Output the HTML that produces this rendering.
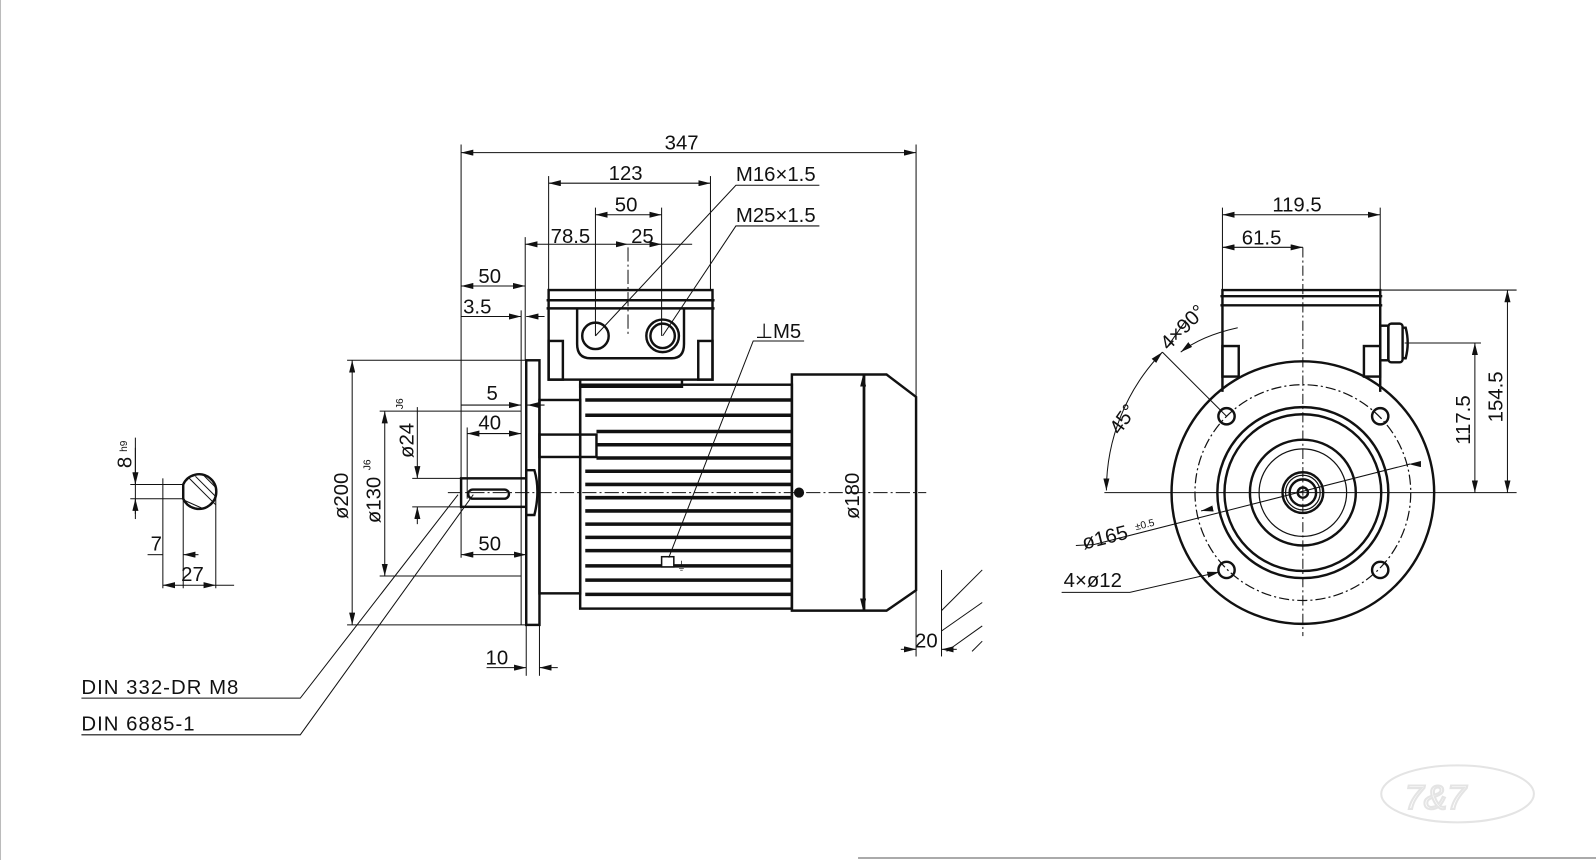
<!DOCTYPE html>
<html><head><meta charset="utf-8"><style>
html,body{margin:0;padding:0;background:#fff;}
svg{display:block;}
text{font-family:"Liberation Sans",sans-serif;font-size:20px;fill:#111;}
</style></head><body>
<svg width="1596" height="860" viewBox="0 0 1568 845" preserveAspectRatio="none" xmlns="http://www.w3.org/2000/svg">
<defs>
<marker id="a" viewBox="0 0 12 6" refX="12" refY="3" markerWidth="12" markerHeight="6" orient="auto-start-reverse" markerUnits="userSpaceOnUse"><path d="M0,0 L12,3 L0,6z" fill="#111"/></marker>
</defs>
<rect x="0" y="0" width="1568" height="845" fill="#fff"/>
<line x1="0.5" y1="0" x2="0.5" y2="845" stroke="#bbb"/>
<line x1="843" y1="843" x2="1568" y2="843" stroke="#555"/>

<!-- ===== SIDE VIEW ===== -->
<g fill="none" stroke="#111" stroke-width="2.4">
 <rect x="453" y="470" width="64" height="28"/>
 <rect x="460" y="481" width="40" height="9" rx="4.5"/>
 <path d="M517,462 h8 q6,20 0,44 h-8z"/>
 <rect x="517" y="354" width="13" height="260"/>
 <rect x="530" y="393" width="40" height="190"/>
 <rect x="530" y="427" width="56" height="22"/>
 <rect x="570" y="378" width="208" height="220"/>
 <path d="M778,368 H871 L900,390 V580 L871,600 H778z"/>
 <line x1="849" y1="368" x2="849" y2="600"/>
 <rect x="539" y="285" width="161" height="88"/>
 <line x1="537" y1="295" x2="702" y2="295"/>
 <line x1="537" y1="303" x2="702" y2="303"/>
 <rect x="539" y="335" width="14" height="38"/>
 <rect x="686" y="335" width="14" height="38"/>
 <path d="M567,303 V338 Q567,352 580,352 H660 Q672,352 672,338 V303"/>
 <circle cx="585" cy="330" r="13"/>
 <circle cx="651" cy="330" r="16"/>
 <circle cx="651" cy="330" r="12"/>
 <path d="M570,373 V380 H670 V373"/>
</g>
<g stroke="#111" stroke-width="3.5">
 <line x1="575" y1="393" x2="778" y2="393"/>
 <line x1="575" y1="408" x2="778" y2="408"/>
 <line x1="586" y1="424" x2="778" y2="424"/>
 <line x1="586" y1="437" x2="778" y2="437"/>
 <line x1="586" y1="450" x2="778" y2="450"/>
 <line x1="575" y1="463" x2="778" y2="463"/>
 <line x1="575" y1="476" x2="778" y2="476"/>
 <line x1="575" y1="489" x2="778" y2="489"/>
 <line x1="575" y1="502" x2="778" y2="502"/>
 <line x1="575" y1="515" x2="778" y2="515"/>
 <line x1="575" y1="528" x2="778" y2="528"/>
 <line x1="575" y1="541" x2="778" y2="541"/>
 <line x1="575" y1="556" x2="778" y2="556"/>
 <line x1="575" y1="570" x2="778" y2="570"/>
 <line x1="575" y1="584" x2="778" y2="584"/>
</g>
<circle cx="785" cy="484" r="5" fill="#111"/>
<rect x="650" y="547" width="12" height="10" fill="#fff" stroke="#111" stroke-width="1.5"/>
<text x="664" y="560" style="font-size:11px">⏚</text>

<g stroke="#111" stroke-width="1" stroke-dasharray="14,3,2,3" fill="none">
 <line x1="440" y1="484" x2="910" y2="484"/>
 <line x1="617" y1="243" x2="617" y2="330"/>
</g>

<g stroke="#111" stroke-width="1" fill="none">
 <line x1="453" y1="142" x2="453" y2="548"/>
 <line x1="900" y1="142" x2="900" y2="645"/>
 <line x1="539" y1="173" x2="539" y2="285"/>
 <line x1="698" y1="173" x2="698" y2="285"/>
 <line x1="585" y1="204" x2="585" y2="330"/>
 <line x1="650" y1="204" x2="650" y2="330"/>
 <line x1="516" y1="233" x2="516" y2="354"/>
 <line x1="512" y1="305" x2="512" y2="614"/>
 <line x1="517" y1="614" x2="517" y2="664"/>
 <line x1="530" y1="614" x2="530" y2="664"/>
 <line x1="341" y1="354" x2="517" y2="354"/>
 <line x1="341" y1="614" x2="517" y2="614"/>
 <line x1="373" y1="404" x2="512" y2="404"/>
 <line x1="373" y1="566" x2="512" y2="566"/>
 <line x1="405" y1="470" x2="453" y2="470"/>
 <line x1="405" y1="498" x2="453" y2="498"/>
 <line x1="459" y1="420" x2="459" y2="490"/>
 <line x1="780" y1="368" x2="855" y2="368"/>
 <line x1="780" y1="600" x2="855" y2="600"/>
 <line x1="925" y1="560" x2="925" y2="645"/>
 <line x1="133" y1="430" x2="133" y2="510"/>
 <line x1="160" y1="470" x2="160" y2="578"/>
 <line x1="180" y1="478" x2="180" y2="578"/>
 <line x1="212" y1="488" x2="212" y2="578"/>
 <line x1="453" y1="150" x2="900" y2="150" marker-start="url(#a)" marker-end="url(#a)"/>
 <line x1="539" y1="180" x2="698" y2="180" marker-start="url(#a)" marker-end="url(#a)"/>
 <line x1="585" y1="211" x2="650" y2="211" marker-start="url(#a)" marker-end="url(#a)"/>
 <line x1="516" y1="240" x2="617" y2="240" marker-start="url(#a)" marker-end="url(#a)"/>
 <line x1="617" y1="240" x2="650" y2="240" marker-end="url(#a)"/>
 <line x1="650" y1="240" x2="680" y2="240"/>
 <line x1="453" y1="281" x2="516" y2="281" marker-start="url(#a)" marker-end="url(#a)"/>
 <line x1="453" y1="311" x2="512" y2="311" marker-end="url(#a)"/>
 <line x1="535" y1="311" x2="517" y2="311" marker-end="url(#a)"/>
 <line x1="453" y1="398" x2="512" y2="398" marker-end="url(#a)"/>
 <line x1="535" y1="398" x2="518" y2="398" marker-end="url(#a)"/>
 <line x1="459" y1="426" x2="512" y2="426" marker-start="url(#a)" marker-end="url(#a)"/>
 <line x1="453" y1="545" x2="517" y2="545" marker-start="url(#a)" marker-end="url(#a)"/>
 <line x1="478" y1="656" x2="517" y2="656" marker-end="url(#a)"/>
 <line x1="548" y1="656" x2="530" y2="656" marker-end="url(#a)"/>
 <line x1="885" y1="638" x2="900" y2="638" marker-end="url(#a)"/>
 <line x1="940" y1="638" x2="925" y2="638" marker-end="url(#a)"/>
 <line x1="346" y1="354" x2="346" y2="614" marker-start="url(#a)" marker-end="url(#a)"/>
 <line x1="378" y1="404" x2="378" y2="566" marker-start="url(#a)" marker-end="url(#a)"/>
 <line x1="410" y1="400" x2="410" y2="470" marker-end="url(#a)"/>
 <line x1="410" y1="515" x2="410" y2="498" marker-end="url(#a)"/>
 <line x1="848" y1="368" x2="848" y2="600" marker-start="url(#a)" marker-end="url(#a)"/>
 <polyline points="805,182 723,182 585,330"/>
 <polyline points="805,222 723,222 651,330"/>
 <polyline points="790,335 740,335 657,548"/>
 <polyline points="80,686 295,686 450,486"/>
 <polyline points="80,722 295,722 465,486"/>
 <line x1="925" y1="600" x2="965" y2="560"/>
 <line x1="925" y1="620" x2="965" y2="592"/>
 <line x1="930" y1="640" x2="965" y2="615"/>
 <line x1="955" y1="640" x2="965" y2="630"/>
 <line x1="133" y1="440" x2="133" y2="476" marker-end="url(#a)"/>
 <line x1="133" y1="505" x2="133" y2="490" marker-end="url(#a)"/>
 <line x1="128" y1="476" x2="180" y2="476"/>
 <line x1="128" y1="490" x2="180" y2="490"/>
 <line x1="145" y1="545" x2="160" y2="545"/>
 <line x1="195" y1="545" x2="180" y2="545" marker-end="url(#a)"/>
 <line x1="160" y1="575" x2="180" y2="575" marker-start="url(#a)"/>
 <line x1="180" y1="575" x2="212" y2="575" marker-end="url(#a)"/>
 <line x1="212" y1="575" x2="230" y2="575"/>
</g>
<g fill="none" stroke="#111" stroke-width="2.4">
 <path d="M180,476 A17,17 0 1 1 180,490 Z"/>
</g>
<g stroke="#111" stroke-width="1">
 <line x1="186" y1="470" x2="212" y2="496"/><line x1="192" y1="468" x2="212" y2="488"/>
 <line x1="182" y1="492" x2="200" y2="500"/><line x1="200" y1="467" x2="212" y2="479"/>
</g>

<text x="653" y="147">347</text>
<text x="598" y="177">123</text>
<text x="604" y="208">50</text>
<text x="541" y="239">78.5</text>
<text x="620" y="239">25</text>
<text x="470" y="278">50</text>
<text x="455" y="308">3.5</text>
<text x="478" y="393">5</text>
<text x="470" y="422">40</text>
<text x="470" y="541">50</text>
<text x="477" y="653">10</text>
<text x="899" y="636">20</text>
<text x="723" y="178">M16×1.5</text>
<text x="723" y="218">M25×1.5</text>
<text x="742" y="332">⊥M5</text>
<text x="80" y="682" style="letter-spacing:1px">DIN 332-DR M8</text>
<text x="80" y="718" style="letter-spacing:1px">DIN 6885-1</text>
<text transform="translate(342,510) rotate(-90)">ø200</text>
<text transform="translate(374,514) rotate(-90)">ø130</text>
<text transform="translate(364,462) rotate(-90)" style="font-size:10px">J6</text>
<text transform="translate(406,450) rotate(-90)">ø24</text>
<text transform="translate(396,402) rotate(-90)" style="font-size:10px">J6</text>
<text transform="translate(844,510) rotate(-90)">ø180</text>
<text transform="translate(129,460) rotate(-90)">8</text>
<text transform="translate(125,444) rotate(-90)" style="font-size:10px">h9</text>
<text x="148" y="541">7</text>
<text x="178" y="571">27</text>

<!-- ===== END VIEW ===== -->
<g fill="none" stroke="#111" stroke-width="2.4">
 <circle cx="1280" cy="484" r="129"/>
 <circle cx="1280" cy="484" r="84"/>
 <circle cx="1280" cy="484" r="77"/>
 <circle cx="1280" cy="484" r="52"/>
 <circle cx="1280" cy="484" r="20"/>
 <circle cx="1280" cy="484" r="13"/>
 <circle cx="1280" cy="484" r="5"/>
 <circle cx="1205" cy="409" r="8"/>
 <circle cx="1356" cy="409" r="8"/>
 <circle cx="1205" cy="560" r="8"/>
 <circle cx="1356" cy="560" r="8"/>
 <path d="M1201,385 V285 H1356 V385"/>
 <line x1="1199" y1="291" x2="1358" y2="291"/>
 <line x1="1199" y1="300" x2="1358" y2="300"/>
 <rect x="1201" y="340" width="16" height="30"/>
 <rect x="1340" y="340" width="16" height="30"/>
 <rect x="1356" y="320" width="8" height="34"/>
 <rect x="1364" y="318" width="14" height="38" rx="3"/>
 <path d="M1378,322 h3 q4,15 0,30 h-3"/>
</g>
<g fill="none" stroke="#111" stroke-width="1.2">
 <circle cx="1280" cy="484" r="43"/>
 <circle cx="1280" cy="484" r="17"/>
 <circle cx="1280" cy="484" r="106" stroke-dasharray="10,3,2,3"/>
</g>
<g stroke="#111" stroke-width="1" fill="none">
 <line x1="1280" y1="243" x2="1280" y2="625" stroke-dasharray="10,3,2,3"/>
 <line x1="1085" y1="484" x2="1490" y2="484"/>
 <line x1="1201" y1="204" x2="1201" y2="285"/>
 <line x1="1356" y1="204" x2="1356" y2="285"/>
 <line x1="1356" y1="285" x2="1490" y2="285"/>
 <line x1="1380" y1="337" x2="1455" y2="337"/>
 <line x1="1201" y1="211" x2="1356" y2="211" marker-start="url(#a)" marker-end="url(#a)"/>
 <line x1="1201" y1="243" x2="1280" y2="243" marker-start="url(#a)" marker-end="url(#a)"/>
 <line x1="1481" y1="285" x2="1481" y2="484" marker-start="url(#a)" marker-end="url(#a)"/>
 <line x1="1449" y1="337" x2="1449" y2="484" marker-start="url(#a)" marker-end="url(#a)"/>
 <path d="M1142,346 A195,195 0 0 0 1087,482" marker-start="url(#a)" marker-end="url(#a)"/>
 <line x1="1165" y1="315" x2="1146" y2="342" />
 <path d="M1216,322 Q1180,330 1160,346" marker-end="url(#a)"/>
 <line x1="1142" y1="346" x2="1205" y2="409"/>
 <polyline points="1057,536 1075,535 1385,456" />
 <line x1="1385" y1="456" x2="1384" y2="456" marker-end="url(#a)"/>
 <line x1="1185" y1="501" x2="1180" y2="502" marker-end="url(#a)"/>
 <polyline points="1043,582 1110,582 1198,562" marker-end="url(#a)"/>
</g>
<text x="1250" y="208">119.5</text>
<text x="1220" y="240">61.5</text>
<text transform="translate(1476,415) rotate(-90)">154.5</text>
<text transform="translate(1444,437) rotate(-90)">117.5</text>
<text transform="translate(1100,428) rotate(-55)">45°</text>
<text transform="translate(1148,345) rotate(-45)">4×90°</text>
<text transform="translate(1065,540) rotate(-14)">ø165</text>
<text transform="translate(1116,521) rotate(-14)" style="font-size:10px">±0.5</text>
<text x="1045" y="577">4×ø12</text>

<g fill="none" stroke="#e4e4e4" stroke-width="2">
 <ellipse cx="1432" cy="780" rx="75" ry="28"/>
 <text x="1380" y="795" style="font-size:34px;fill:none;stroke:#e4e4e4;font-style:italic">7&amp;7</text>
</g>
</svg>
</body></html>
